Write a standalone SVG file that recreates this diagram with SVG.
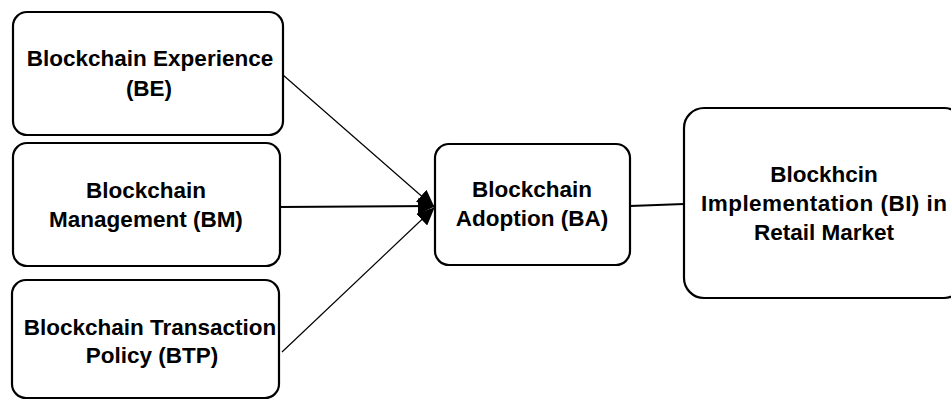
<svg xmlns="http://www.w3.org/2000/svg" width="951" height="400" viewBox="0 0 951 400">
<style>
.box{fill:#fff;stroke:#000;stroke-width:2.2}
.t{font-family:"Liberation Sans",Arial,sans-serif;font-weight:bold;font-size:22.5px;fill:#000;text-anchor:middle}
.c{stroke:#000;fill:none}
</style>
<defs>
<marker id="ah" markerUnits="userSpaceOnUse" markerWidth="18" markerHeight="16" refX="17" refY="8" orient="auto">
<path d="M0,0 L18,8 L0,16 Z" fill="#000"/>
</marker>
</defs>
<g id="connectors">
<line class="c" x1="283" y1="75" x2="434" y2="207" stroke-width="1.2" marker-end="url(#ah)"/>
<line class="c" x1="280" y1="207" x2="435" y2="206" stroke-width="2.2" marker-end="url(#ah)"/>
<line class="c" x1="282" y1="352" x2="434" y2="208" stroke-width="1.2" marker-end="url(#ah)"/>
<line class="c" x1="630" y1="206" x2="684" y2="204" stroke-width="2.2"/>
</g>
<g id="BE">
<rect class="box" x="13" y="12" width="270" height="123" rx="14"/>
<text class="t" x="150" y="66">Blockchain Experience</text>
<text class="t" x="149" y="96">(BE)</text>
</g>
<g id="BM">
<rect class="box" x="13" y="143" width="267" height="123" rx="14"/>
<text class="t" x="146" y="198">Blockchain</text>
<text class="t" x="146" y="227">Management (BM)</text>
</g>
<g id="BTP">
<rect class="box" x="12" y="280" width="267" height="118" rx="14"/>
<text class="t" x="150" y="335">Blockchain Transaction</text>
<text class="t" x="152" y="363">Policy (BTP)</text>
</g>
<g id="BA">
<rect class="box" x="435" y="144" width="195" height="121" rx="14"/>
<text class="t" x="532" y="197">Blockchain</text>
<text class="t" x="532" y="226">Adoption (BA)</text>
</g>
<g id="BI">
<rect class="box" x="684" y="108" width="280" height="190" rx="20"/>
<text class="t" x="824" y="182">Blockhcin</text>
<text class="t" x="824" y="211" textLength="246">Implementation (BI) in</text>
<text class="t" x="824" y="240">Retail Market</text>
</g>
</svg>
